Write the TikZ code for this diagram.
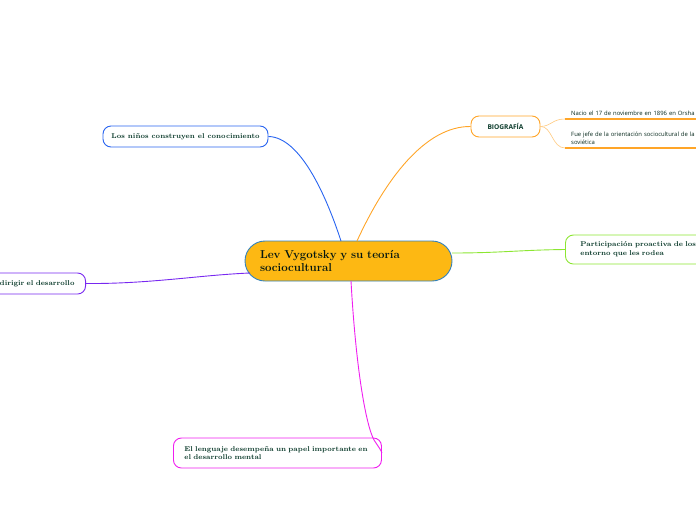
\documentclass[tikz,border=0pt]{standalone}
\usepackage{fontspec}
\usepackage{tikz}
\usetikzlibrary{positioning}
\newfontfamily\biofont{Open Sans}

\definecolor{centrefill}{RGB}{253,184,19}
\definecolor{centreline}{RGB}{50,130,190}
\definecolor{textgreen}{RGB}{10,58,42}
\definecolor{cblue}{RGB}{40,100,240}
\definecolor{corange}{RGB}{255,165,40}
\definecolor{cgreen}{RGB}{140,230,50}
\definecolor{cpurple}{RGB}{120,40,240}
\definecolor{cmagenta}{RGB}{240,30,240}

\begin{document}
\begin{tikzpicture}[
    x=1pt, y=-1pt,
    topic/.style={draw, fill=white, line width=0.9pt, rounded corners=8pt,
        text=textgreen, font=\fontsize{7}{8.6}\selectfont\bfseries, inner ysep=0pt},
    branch/.style={line width=0.9pt},
    sub/.style={text=textgreen!70!black, font=\biofont\fontsize{5.9}{8.5}\selectfont,
        align=left, anchor=south west, inner xsep=6pt, inner ysep=3pt,
        text width=200pt}
]
\useasboundingbox (0,0) rectangle (696,520);
\clip (0,0) rectangle (696,520);

% Central topic
\node[draw=centreline, fill=centrefill, line width=0.9pt, rounded corners=20pt,
      minimum width=207pt, minimum height=40pt, text width=177pt, align=left,
      inner xsep=15pt, text=textgreen!40!black,
      font=\fontsize{11.5}{13}\selectfont\bfseries] (centre) at (348.5,261)
      {Lev Vygotsky y su teoría\\sociocultural};

% Main topics
\node[topic, draw=cblue, minimum width=165pt, minimum height=21pt] (ninos) at (185.5,136.5)
      {Los niños construyen el conocimiento};
\node[topic, draw=corange, minimum width=69pt, minimum height=21pt,
      font=\biofont\fontsize{6.6}{8}\selectfont\bfseries] (biografia) at (505.5,126.5)
      {BIOGRAFÍA};
\node[topic, draw=cgreen, anchor=west, minimum height=29pt, text width=180pt,
      align=left, inner xsep=15pt] (participacion) at (565,249.5)
      {Participación proactiva de los\\entorno que les rodea};
\node[topic, draw=cpurple, anchor=east, minimum height=21pt, text width=140pt,
      align=right, inner xsep=11pt] (dirigir) at (86,283.5)
      {dirigir el desarrollo};
\node[topic, draw=cmagenta, anchor=west, minimum height=30pt, text width=186pt,
      align=left, inner xsep=11pt] (lenguaje) at (173,453)
      {El lenguaje desempeña un papel importante en\\el desarrollo mental};

% Subtopics of the biography
\node[sub] (nacio) at (565,119) {Nacio el 17 de noviembre en 1896 en Orsha};
\node[sub] (jefe) at (565,148) {Fue jefe de la orientación sociocultural de la p\\soviética};

% Branches
\draw[branch, cblue] (ninos.east) .. controls (300,137) and (326,195) .. (341,241);
\draw[branch, corange] (357,241) .. controls (385,180) and (425,126) .. (biografia.west);
\draw[branch, cgreen] (452,253) .. controls (500,253) and (520,250) .. (participacion.west);
\draw[branch, cpurple] (dirigir.east) .. controls (150,284) and (200,275) .. (250,273);
\draw[branch, cmagenta] (351,281) .. controls (356,370) and (366,425) .. (374,440)
      .. controls (378,446) and (381,450) .. (lenguaje.east);

% Biography leaves
\draw[corange!60, line width=0.6pt] (biografia.east) .. controls (552,126) and (552,119) .. (nacio.south west);
\draw[corange!60, line width=0.6pt] (biografia.east) .. controls (552,126) and (552,148) .. (jefe.south west);
\draw[corange, line width=1.4pt] (nacio.south west) -- (nacio.south east);
\draw[corange, line width=1.4pt] (jefe.south west) -- (jefe.south east);

\end{tikzpicture}
\end{document}
